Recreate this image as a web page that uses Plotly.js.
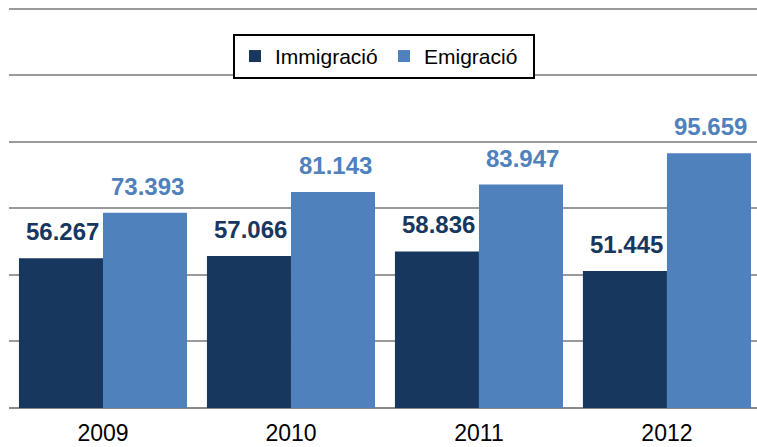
<!DOCTYPE html>
<html>
<head>
<meta charset="utf-8">
<script src="https://cdn.plot.ly/plotly-3.0.1.min.js"></script>
<style>html,body{margin:0;padding:0;background:#fff;}#chart{width:757px;height:447px;}</style>
</head>
<body>
<div id="chart"></div>
<script>
const years = ['2009', '2010', '2011', '2012'];
const immigracio = [56267, 57066, 58836, 51445];
const emigracio = [73393, 81143, 83947, 95659];
const seriesNames = ['Immigració', 'Emigració'];
const darkBlue = '#17375E';
const lightBlue = '#4F81BD';

function fmt(v) {
  return String(v).replace(/\B(?=(\d{3})+(?!\d))/g, '.');
}

const bargap = 0.106;
const half = (1 - bargap) / 4;

const traces = [
  {type: 'bar', name: seriesNames[0], x: years, y: immigracio,
   marker: {color: darkBlue, line: {width: 0}}, hoverinfo: 'skip'},
  {type: 'bar', name: seriesNames[1], x: years, y: emigracio,
   marker: {color: lightBlue, line: {width: 0}}, hoverinfo: 'skip'}
];

const labelFont = 'Liberation Sans, Arial, sans-serif';
const annotations = [];
years.forEach((yr, i) => {
  annotations.push({x: i - half, y: immigracio[i], xref: 'x', yref: 'y', text: fmt(immigracio[i]),
    showarrow: false, yanchor: 'bottom', yshift: 11, xshift: 2,
    font: {family: labelFont, size: 24, color: darkBlue, weight: 'bold'}});
  annotations.push({x: i + half, y: emigracio[i], xref: 'x', yref: 'y', text: fmt(emigracio[i]),
    showarrow: false, yanchor: 'bottom', yshift: 11, xshift: 2,
    font: {family: labelFont, size: 24, color: lightBlue, weight: 'bold'}});
});

const layout = {
  width: 757, height: 447,
  margin: {l: 9, r: 0, t: 4, b: 39},
  paper_bgcolor: '#ffffff', plot_bgcolor: '#ffffff',
  font: {family: labelFont, color: '#000'},
  barmode: 'group', bargap: bargap, bargroupgap: 0,
  showlegend: true,
  legend: {orientation: 'h', x: 0.2995, xanchor: 'left', y: 0.926, yanchor: 'top',
    bordercolor: '#000', borderwidth: 2, bgcolor: '#fff',
    font: {size: 21, color: '#000'}, itemwidth: 30, traceorder: 'normal', entrywidth: 104},
  xaxis: {type: 'category', range: [-0.5, 3.479], showgrid: false, zeroline: false,
    showline: false, ticks: '', tickfont: {size: 23, color: '#000'}, ticklabelstandoff: 9,
    fixedrange: true},
  yaxis: {range: [0, 151770], dtick: 25000, tick0: 0, showticklabels: false,
    showgrid: true, gridcolor: '#9a9a9a', gridwidth: 2,
    zeroline: true, zerolinecolor: '#8a8a8a', zerolinewidth: 2, fixedrange: true},
  annotations: annotations
};

Plotly.newPlot('chart', traces, layout, {displayModeBar: false, staticPlot: true});
</script>
</body>
</html>
